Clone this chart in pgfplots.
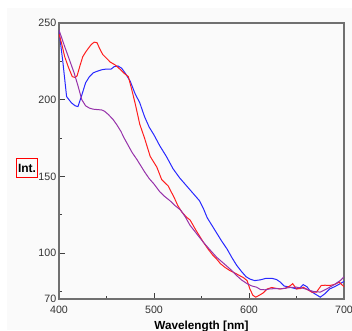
\documentclass[border=0pt]{standalone}
\usepackage{fontspec}
\setmainfont{Liberation Sans}
\usepackage{pgfplots}
\pgfplotsset{compat=1.18}
\definecolor{panel}{RGB}{250,250,250}
\definecolor{axgray}{RGB}{112,112,112}
\definecolor{cblue}{RGB}{40,40,255}
\definecolor{cred}{RGB}{255,30,30}
\definecolor{cpurple}{RGB}{150,50,170}
\begin{document}
\begin{tikzpicture}
\useasboundingbox (-44.25pt,-23.25pt) rectangle (219.75pt,224.25pt);
\fill[panel] (-39pt,-23.25pt) rectangle (219.75pt,218.25pt);
\begin{axis}[
  scale only axis,
  width=213.75pt, height=207pt,
  xmin=400, xmax=700, ymin=70, ymax=250,
  xtick={400,500,600,700},
  ytick={70,100,150,200,250},
  minor xtick={450,550,650},
  minor ytick={75,125,175,225},
  xtick pos=bottom, ytick pos=left,
  tick align=inside,
  major tick length=4.5pt, minor tick length=2.5pt,
  tick style={color=black!75, line width=0.6pt},
  axis line style={color=axgray, line width=1.1pt},
  /pgf/number format/assume math mode=true,
  ticklabel style={font=\fontsize{8}{9}\selectfont, text=black!80},
  yticklabel style={xshift=1.5pt},
  xticklabel style={yshift=-1.5pt},
  xlabel={\textbf{Wavelength [nm]}},
  xlabel style={at={(axis description cs:0.5,0)}, anchor=north, yshift=-16pt, inner sep=0pt, font=\fontsize{8.8}{10}\selectfont},
  clip=true,
]
\addplot[cblue, line width=0.75pt] coordinates {
(400,245) (404,225) (408,202) (413,198) (417,196) (420,195.5) (424,203) (428,211)
(432,215) (436,217.5) (440,218.5) (445,219.5) (450,220) (455,220) (458,221.5) (462,222)
(466,220.5) (470,217) (475,212) (480,204) (485,198) (490,189) (495,182) (500,177)
(506,170) (513,163) (520,155) (527,149) (534,144) (541,139) (548,134) (552,129)
(556,123) (561,118) (566,113) (571,108) (577,102.5) (582,97) (587,92) (592,88)
(597,84.5) (601,83) (606,82) (612,82.5) (618,83.5) (624,83.5) (629,82.7) (633,81)
(637,78.5) (643,77.7) (650,76.6) (654,77.5) (657,79.4) (661,78) (664,75.5) (669,73.5)
(675,71.2) (680,73.5) (685,76.6) (690,78) (696,80) (700,81.5)
};
\addplot[cred, line width=0.75pt] coordinates {
(400,243) (403,236) (406,228) (410,221) (414,215) (417,214.5) (419,215.5) (422,222)
(425,228) (428,231) (431,233.6) (434,236) (437,237.5) (440,237.2) (443,233) (446,229.5)
(450,227) (454,224.5) (459,222.7) (464,220) (469,217) (473,215) (476,208) (480,198)
(485,184) (490,175) (496,163) (500,159) (503,156) (508,148) (512,145.5) (515,143.7)
(518,140) (521,136.5) (525,131) (529,127) (534,123.5) (538,121.5) (544,115) (552,107)
(557,102.5) (562,98.5) (566,96) (570,93) (575,90.5) (580,88.5) (585,87) (590,85.3)
(594,84) (598,82) (601,76.5) (604,72.5) (607,71.2) (611,72.5) (615,74) (619,76.5)
(624,77.5) (628,77) (633,76.6) (638,77) (643,78.5) (646,80) (650,76.6) (654,76.8)
(657,77.7) (662,76) (666,74.5) (671,74.5) (676,78.8) (680,79) (685,78.8) (690,79.5)
(695,81) (700,78)
};
\addplot[cpurple, line width=0.75pt] coordinates {
(400,245.5) (403,240) (406,234.6) (411,226) (416,217.3) (420,209) (424,200) (428,196)
(432,194.5) (436,193.8) (441,193.5) (445,193.3) (448,192.4) (452,190.3) (457,187) (461,183.5)
(465,179.5) (469,174.5) (473,170) (477,165.5) (482,161) (486,157) (490,153) (495,148.5)
(500,145) (506,140) (511,137) (517,134) (522,131) (528,128) (533,123.5) (538,118)
(545,112.5) (552,107) (559,102) (566,97.2) (571,94.5) (576,91.8) (582,88.5) (587,85.3)
(592,82.5) (598,80) (603,78.5) (608,77.7) (612,76.2) (617,76) (622,76.6) (628,76.8)
(633,76.6) (638,77) (643,77.5) (650,77.7) (657,77) (662,76) (668,74.9) (675,74.5)
(680,76) (685,77.7) (690,79.5) (696,82) (700,84.5)
};
\end{axis}
\node[draw=red, line width=0.8pt, inner xsep=1.2pt, minimum height=14pt, minimum width=15pt, font=\fontsize{9}{10}\selectfont\bfseries, text=black]
  at (-24pt,98.25pt) {Int.};
\end{tikzpicture}
\end{document}
